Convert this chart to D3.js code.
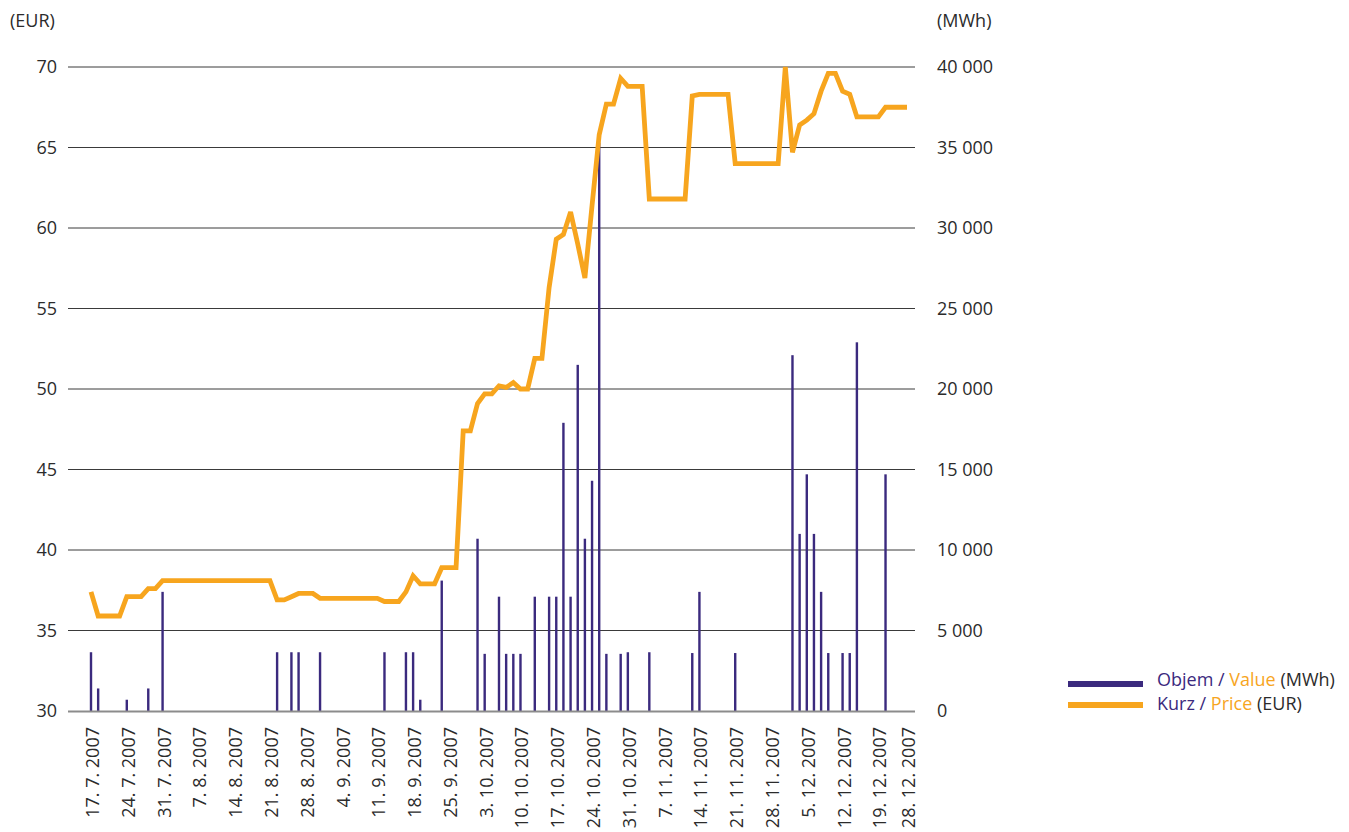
<!DOCTYPE html>
<html>
<head>
<meta charset="utf-8">
<script src="https://cdn.jsdelivr.net/npm/d3@7"></script>
<style>
  html,body{margin:0;padding:0;background:#fff;}
  svg text{font-family:"Open Sans",sans-serif;}
</style>
</head>
<body>
<svg id="chart" width="1349" height="832"></svg>
<script>
/* ================================================================
   Objem / Kurz — trading days 17.7.2007 – 28.12.2007
   Bars = volume (MWh, right axis), line = price (EUR, left axis)
   ================================================================ */

/* Price per trading day (EUR), index 0 = 17. 7. 2007 */
var price=[
  37.4,35.9,35.9,35.9,35.9,37.1,37.1,37.1,37.6,37.6,
  38.1,38.1,38.1,38.1,38.1,38.1,38.1,38.1,38.1,38.1,
  38.1,38.1,38.1,38.1,38.1,38.1,36.9,36.9,37.1,37.3,
  37.3,37.3,37.0,37.0,37.0,37.0,37.0,37.0,37.0,37.0,
  37.0,36.8,36.8,36.8,37.4,38.4,37.9,37.9,37.9,38.9,
  38.9,38.9,47.4,47.4,49.1,49.7,49.7,50.2,50.1,50.4,
  50.0,50.0,51.9,51.9,56.3,59.3,59.6,61.0,59.0,56.9,
  61.4,65.8,67.7,67.7,69.3,68.8,68.8,68.8,61.8,61.8,
  61.8,61.8,61.8,61.8,68.2,68.3,68.3,68.3,68.3,68.3,
  64.0,64.0,64.0,64.0,64.0,64.0,64.0,70.0,64.7,66.4,
  66.7,67.1,68.5,69.6,69.6,68.5,68.3,66.9,66.9,66.9,
  66.9,67.5,67.5,67.5,67.5
];

/* Traded volume (MWh): trading-day index and value */
var volDay=[0,1,5,8,10,26,28,29,32,41,44,45,46,49,54,55,57,58,59,60,62,64,65,66,67,68,69,70,71,72,74,75,78,84,85,90,98,99,100,101,102,103,105,106,107,111];
var volVal=[3650,1400,700,1400,7400,3650,3650,3650,3650,3650,3650,3650,700,8100,10700,3550,7100,3550,3550,3550,7100,7100,7100,17900,7100,21500,10700,14300,35300,3550,3550,3650,3650,3600,7400,3600,22100,11000,14700,11000,7400,3600,3600,3600,22900,14700];

/* Axis labels */
var tickLabels=['17. 7. 2007','24. 7. 2007','31. 7. 2007','7. 8. 2007','14. 8. 2007','21. 8. 2007','28. 8. 2007','4. 9. 2007','11. 9. 2007','18. 9. 2007','25. 9. 2007','3. 10. 2007','10. 10. 2007','17. 10. 2007','24. 10. 2007','31. 10. 2007','7. 11. 2007','14. 11. 2007','21. 11. 2007','28. 11. 2007','5. 12. 2007','12. 12. 2007','19. 12. 2007','28. 12. 2007'];
var tickDay=[0,5,10,15,20,25,30,35,40,45,50,55,60,65,70,75,80,85,90,95,100,105,110,114];
var priceTicks=[30,35,40,45,50,55,60,65,70];
var volTicks=[0,5000,10000,15000,20000,25000,30000,35000,40000];

var PURPLE='#3b2a7e', ORANGE='#f7a51e', TXT='#2b2b2b';
var PL=68, PR=915, PT=67, PB=711;

var svg=d3.select('#chart');
var xS=d3.scaleLinear().domain([0,price.length-1]).range([91,907]);
var yP=d3.scaleLinear().domain([30,70]).range([PB,PT]);
var yV=d3.scaleLinear().domain([0,40000]).range([PB,PT]);

/* Grid lines */
svg.append('g').selectAll('line').data(priceTicks.slice(1)).enter().append('line')
  .attr('x1',PL).attr('x2',PR)
  .attr('y1',function(d){return yP(d)}).attr('y2',function(d){return yP(d)})
  .attr('stroke','#3a3a3a').attr('stroke-width',1);

/* Left axis (EUR) */
var gl=svg.append('g').attr('transform','translate(57,0)')
  .call(d3.axisLeft(yP).tickValues(priceTicks).tickSize(0).tickPadding(0));
gl.select('.domain').remove();
gl.selectAll('text').attr('font-size','18px').attr('fill',TXT).attr('font-family','Open Sans,sans-serif');

/* Right axis (MWh) */
var gr=svg.append('g').attr('transform','translate(937,0)')
  .call(d3.axisRight(yV).tickValues(volTicks).tickSize(0).tickPadding(0)
    .tickFormat(function(d){return d3.format(',')(d).replace(/,/g,' ')}));
gr.select('.domain').remove();
gr.selectAll('text').attr('font-size','18px').attr('fill',TXT).attr('font-family','Open Sans,sans-serif');

/* Unit labels */
svg.append('text').attr('x',10).attr('y',27).attr('font-size','18px').attr('fill',TXT).text('(EUR)');
svg.append('text').attr('x',937).attr('y',27).attr('font-size','18px').attr('fill',TXT).text('(MWh)');

/* Volume bars */
svg.append('g').selectAll('rect').data(volDay).enter().append('rect')
  .attr('x',function(d){return xS(d)-1.2}).attr('width',2.4)
  .attr('y',function(d,i){return yV(volVal[i])})
  .attr('height',function(d,i){return PB-yV(volVal[i])})
  .attr('fill',PURPLE);

/* Bottom axis line */
svg.append('line').attr('x1',PL).attr('x2',PR).attr('y1',PB+0.5).attr('y2',PB+0.5)
  .attr('stroke','#8c8c8c').attr('stroke-width',2);

/* Price line */
var line=d3.line().x(function(d,i){return xS(i)}).y(function(d){return yP(d)});
svg.append('path').datum(price).attr('d',line)
  .attr('fill','none').attr('stroke',ORANGE).attr('stroke-width',4.8)
  .attr('stroke-linejoin','miter').attr('stroke-miterlimit',3);

/* X labels, rotated */
svg.append('g').selectAll('text').data(tickDay).enter().append('text')
  .attr('transform',function(d){return 'translate('+(xS(d)+1.5)+',727) rotate(-90)'})
  .attr('text-anchor','end').attr('dy','0.36em')
  .attr('font-size','18px').attr('fill',TXT)
  .text(function(d,i){return tickLabels[i]});

/* Legend */
var lg=svg.append('g');
lg.append('rect').attr('x',1068).attr('y',681).attr('width',75).attr('height',6).attr('fill',PURPLE);
lg.append('rect').attr('x',1068).attr('y',702).attr('width',75).attr('height',6).attr('fill',ORANGE);
var t1=lg.append('text').attr('x',1157).attr('y',686).attr('font-size','18px');
t1.append('tspan').attr('fill',PURPLE).text('Objem / ');
t1.append('tspan').attr('fill',ORANGE).text('Value ');
t1.append('tspan').attr('fill',TXT).text('(MWh)');
var t2=lg.append('text').attr('x',1157).attr('y',710).attr('font-size','18px');
t2.append('tspan').attr('fill',PURPLE).text('Kurz / ');
t2.append('tspan').attr('fill',ORANGE).text('Price ');
t2.append('tspan').attr('fill',TXT).text('(EUR)');
</script>
</body>
</html>
